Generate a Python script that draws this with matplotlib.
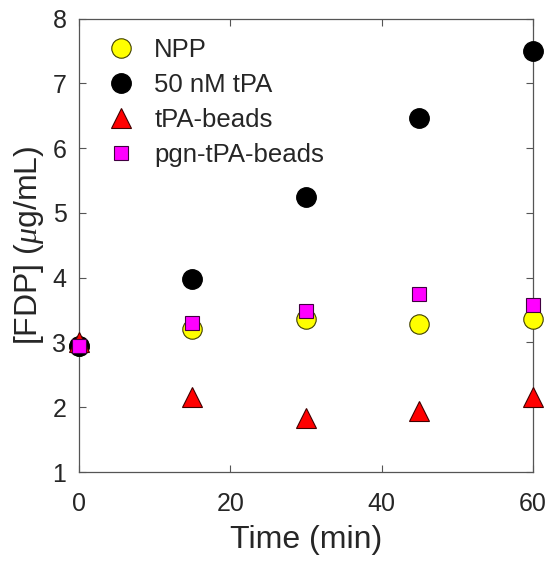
import matplotlib.pyplot as plt
import numpy as np

plt.rcParams['font.family'] = ['Liberation Sans', 'DejaVu Sans']
plt.rcParams['mathtext.fontset'] = 'custom'
plt.rcParams['mathtext.it'] = 'Liberation Serif:italic'

# -----------------------------
# DATA
# -----------------------------
time_min = [0, 15, 30, 45, 60]
npp = [2.95, 3.21, 3.36, 3.29, 3.36]
tpa_50nm = [2.95, 3.98, 5.24, 6.46, 7.50]
tpa_beads = [3.0, 2.16, 1.83, 1.95, 2.16]
pgn_tpa_beads = [2.95, 3.30, 3.48, 3.75, 3.58]

text_col = '#262626'
axis_col = '#555555'

fig = plt.figure(figsize=(5.5, 5.62), dpi=100)
ax = fig.add_axes([0.1436, 0.160, 0.8254, 0.807])

ax.plot(time_min, npp, 'o', ms=14, mfc='#ffff00', mec='#404000', mew=0.8,
        label='NPP', clip_on=False, zorder=3)
ax.plot(time_min, tpa_50nm, 'o', ms=14, mfc='black', mec='black',
        label='50 nM tPA', clip_on=False, zorder=3)
ax.plot(time_min, tpa_beads, '^', ms=15, mfc='#ff0000', mec='#400000', mew=0.8,
        label='tPA-beads', clip_on=False, zorder=3)
ax.plot(time_min, pgn_tpa_beads, 's', ms=10, mfc='#ff00ff', mec='#400040', mew=0.8,
        label='pgn-tPA-beads', clip_on=False, zorder=3)

ax.set_xlim(0, 60)
ax.set_ylim(1, 8)
ax.set_xticks([0, 20, 40, 60])
ax.set_yticks(np.arange(1, 9))

for s in ax.spines.values():
    s.set_color(axis_col)
    s.set_linewidth(0.9)
ax.tick_params(direction='in', top=True, right=True, length=5, width=0.8,
               color=axis_col, labelcolor=text_col, labelsize=18)
ax.tick_params(axis='x', pad=14)
ax.tick_params(axis='y', pad=9)

ax.set_xlabel('Time (min)', fontsize=23, color=text_col, labelpad=7)
ax.set_ylabel('[FDP] ($\\mu$g/mL)', fontsize=23, color=text_col, labelpad=5)

leg = ax.legend(loc='upper left', frameon=False, fontsize=18.5, handlelength=1.55,
                handletextpad=0.5, labelspacing=0.43, borderaxespad=0,
                bbox_to_anchor=(0.027, 0.98))
for t in leg.get_texts():
    t.set_color(text_col)

plt.savefig('out.png', dpi=100)
